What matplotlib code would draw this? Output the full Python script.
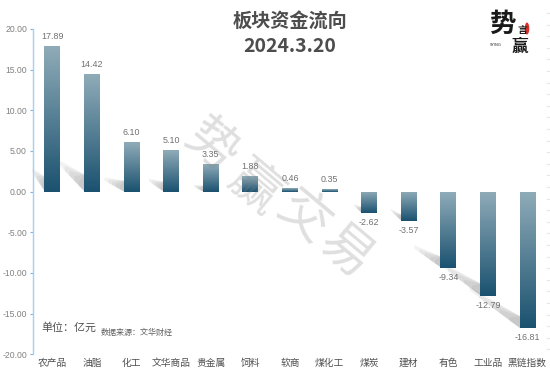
import numpy as np
import matplotlib
matplotlib.use("Agg")
import matplotlib.pyplot as plt
from matplotlib.colors import LinearSegmentedColormap
from matplotlib.lines import Line2D
from matplotlib.patches import Ellipse, Polygon
from matplotlib.transforms import IdentityTransform

categories = ["农产品", "油脂", "化工", "文华商品", "贵金属", "饲料", "软商",
              "煤化工", "煤炭", "建材", "有色", "工业品", "黑链指数"]
values = [17.89, 14.42, 6.10, 5.10, 3.35, 1.88, 0.46, 0.35,
          -2.62, -3.57, -9.34, -12.79, -16.81]
y_ticks = [20, 15, 10, 5, 0, -5, -10, -15, -20]
title = "板块资金流向"
date = "2024.3.20"
watermark = "势赢交易"

W, H = 550, 373
CJK = ["Noto Sans CJK SC", "DejaVu Sans"]
plt.rcParams["font.family"] = CJK


def px_text(x, y, s, **kw):
    # place text by pixel position, y counted from the top
    kw.setdefault("ha", "center")
    kw.setdefault("va", "center")
    return fig.text(x / W, 1 - y / H, s, **kw)


fig = plt.figure(figsize=(W / 100, H / 100), dpi=100)
ax = fig.add_axes([32.5 / W, 1 - 354.3 / H, 514.8 / W, 325.3 / H])
ax.set_xlim(-0.5, 12.5)
ax.set_ylim(-20, 20)

cmap = LinearSegmentedColormap.from_list("bar", ["#8fabb8", "#1b5270"])
grad = np.linspace(0, 1, 64).reshape(-1, 1)
bars = ax.bar(range(len(values)), values, width=0.404, color="none", zorder=3)
for b, v in zip(bars, values):
    x0, w = b.get_x(), b.get_width()
    im = ax.imshow(grad, cmap=cmap, aspect="auto", zorder=3,
                   extent=[x0, x0 + w, min(v, 0), max(v, 0)])
    im.set_clip_path(b)
    ax.annotate(f"{v:.2f}", (b.get_x() + w / 2, v),
                xytext=(0, 6.8 if v > 0 else -6.8), textcoords="offset points",
                ha="center", va="center", fontsize=6.4, color="#707070",
                family="Liberation Sans", zorder=9)
ax.set_xlim(-0.5, 12.5)
ax.set_ylim(-20, 20)

# soft diagonal shadows that lead into each bar: (run, rise, thickness) in pixels
shadows = [(12, 19, 15), (24, 26, 17), (19, 11, 11), (14, 10, 10), (9, 5, 6), (0, 0, 0),
           (0, 0, 0), (0, 0, 0), (7, 7, 6), (10, 10, 6), (26, 19, 11), (40, 31, 12), (50, 38, 12)]
for b, v, (run, rise, thick) in zip(bars, values, shadows):
    if run == 0:
        continue
    ex, ey = ax.transData.transform((b.get_x(), 0 if v > 0 else v))
    for t in (0, 0.2, 0.4, 0.6, 0.8):
        sx, sy = ex - run * (1 - t), ey + rise * (1 - t)
        ax.add_patch(Polygon([(sx, sy + thick * 0.3), (ex + 1, ey + thick), (ex + 1, ey), (sx, sy)],
                             closed=True, transform=IdentityTransform(), clip_on=False,
                             fc="#808080", ec="none", alpha=0.1, zorder=1))

ax.set_yticks(y_ticks)
ax.set_yticklabels([f"{t:.2f}" for t in y_ticks], family="Liberation Sans",
                   fontsize=6.2, color="#808080")
ax.set_xticks(range(len(categories)))
ax.set_xticklabels(categories, fontsize=7, color="#505050")
ax.tick_params(axis="x", length=0, pad=2.4)
ax.tick_params(axis="y", length=2.4, width=0.8, color="#7db5e6", pad=1.6)
for name in ("top", "right", "bottom"):
    ax.spines[name].set_visible(False)
ax.spines["left"].set_color("#a8cff0")
ax.spines["left"].set_linewidth(1.0)

# titles and notes
px_text(289.5, 22, title, fontsize=13.8, fontweight="bold", color="#4d4d4d")
px_text(290, 46, date, fontsize=14, fontweight="bold", color="#4d4d4d")
px_text(41, 328, "单位：亿元", ha="left", fontsize=7.9, color="#505050")
px_text(101, 332.5, "数据来源：文华财经", ha="left", fontsize=5.8, color="#606060")

# watermark, one character at a time along the diagonal
for ch, (x, y) in zip(watermark, [(212, 146), (254, 188), (303, 217), (346, 252)]):
    px_text(x, y, ch, fontsize=37, color="#808080", alpha=0.25, rotation=-40,
            fontweight="regular", zorder=8)

# logo
px_text(502, 24, "势", fontsize=19, fontweight="bold", color="#1a1a1a")
px_text(522, 30, "言", fontsize=7, fontweight="bold", color="#1a1a1a")
px_text(520, 47, "赢", fontsize=12, fontweight="bold", color="#1a1a1a")
px_text(496, 44.5, "SYING", fontsize=2.8, color="#333333", family="DejaVu Sans")
fig.add_artist(Ellipse((527 / W, 1 - 28.5 / H), 4.5 / W, 12 / H, fc="#d8312a", ec="none",
                       transform=fig.transFigure))

# faint ticks down the right edge
for y in np.arange(13, 360, 11.6):
    fig.add_artist(Line2D([547 / W, 550 / W], [1 - y / H, 1 - y / H], color="#e6e6e6", lw=0.8))

fig.savefig("out.png", dpi=100)
